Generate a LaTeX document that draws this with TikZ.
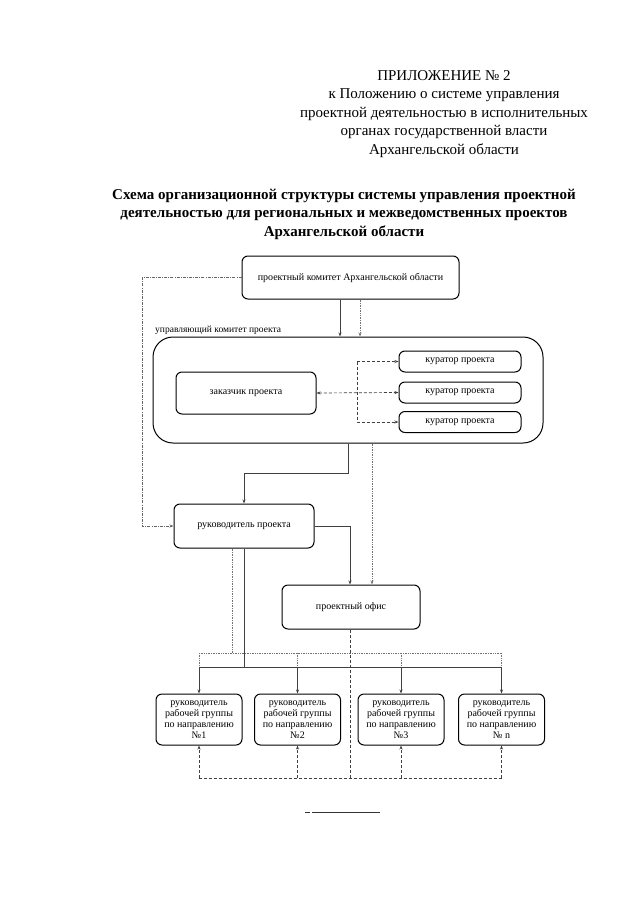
\documentclass[tikz,border=0pt]{standalone}
\usepackage{fontspec}
\setmainfont{Liberation Serif}
\usetikzlibrary{arrows.meta}
\tikzset{
  box/.style={draw, line width=1pt, rounded corners=6pt, inner sep=0pt, align=center, font=\fontsize{10}{10.8}\selectfont},
  conn/.style={draw=black!75, line width=0.7pt},
  arr/.style={-{Stealth[length=4pt,width=3pt]}},
  darr/.style={{Stealth[length=4pt,width=3pt]}-{Stealth[length=4pt,width=3pt]}},
  dotl/.style={conn, densely dotted, draw=black!55},
  dashl/.style={conn, dashed, dash pattern=on 3pt off 2pt},
  dashdotl/.style={conn, dash pattern=on 3pt off 1.2pt on 0.8pt off 1.2pt, draw=black!60},
  headtxt/.style={anchor=base, font=\fontsize{15}{18.5}\selectfont, inner sep=0pt},
  titletxt/.style={anchor=base, font=\fontsize{15}{18.5}\selectfont\bfseries, inner sep=0pt}
}
\begin{document}
\begin{tikzpicture}[x=1pt,y=-1pt]
\useasboundingbox[fill=white] (0,0) rectangle (640,905);

% header
\node[headtxt] (h1) at (444,80) {ПРИЛОЖЕНИЕ № 2};
\node[headtxt] (h2) at (444,98.5) {к Положению о системе управления};
\node[headtxt] (h3) at (444,117) {проектной деятельностью в исполнительных};
\node[headtxt] (h4) at (444,135.5) {органах государственной власти};
\node[headtxt] (h5) at (444,154) {Архангельской области};

\node[titletxt] (t1) at (344,199) {Схема организационной структуры системы управления проектной};
\node[titletxt] (t2) at (344,217.5) {деятельностью для региональных и межведомственных проектов};
\node[titletxt] (t3) at (344,236) {Архангельской области};

% boxes
\node[box, minimum width=217pt, minimum height=43pt] (top) at (350.5,277.5) {проектный комитет Архангельской области};
\node[box, rounded corners=20pt, minimum width=390pt, minimum height=106pt] (big) at (348,390) {};
\node[anchor=west, inner sep=0pt, font=\fontsize{9.5}{11}\selectfont] (biglbl) at (155,330) {управляющий комитет проекта};
\node[box, minimum width=140pt, minimum height=42pt] (zak) at (246,393) {заказчик проекта};
\node[box, minimum width=122pt, minimum height=21pt] (c1) at (460,361.5) {куратор проекта};
\node[box, minimum width=122pt, minimum height=21pt] (c2) at (460,392.5) {куратор проекта};
\node[box, minimum width=122pt, minimum height=21pt] (c3) at (460,422) {куратор проекта};
\node[box, minimum width=140pt, minimum height=44pt] (ruk) at (244,526) {руководитель проекта};
\node[box, minimum width=138pt, minimum height=44pt] (off) at (351,607) {проектный офис};
\node[box, minimum width=86pt, minimum height=51pt] (g1) at (199,719.5) {руководитель\\рабочей группы\\по направлению\\№1};
\node[box, minimum width=86pt, minimum height=51pt] (g2) at (297.5,719.5) {руководитель\\рабочей группы\\по направлению\\№2};
\node[box, minimum width=86pt, minimum height=51pt] (g3) at (401,719.5) {руководитель\\рабочей группы\\по направлению\\№3};
\node[box, minimum width=86pt, minimum height=51pt] (g4) at (501.5,719.5) {руководитель\\рабочей группы\\по направлению\\№ n};

% helper coordinates
\coordinate (xa) at (340,0);
\coordinate (xb) at (360,0);
\coordinate (xl) at (142,0);
\coordinate (xj) at (357,0);
\coordinate (xc) at (348,473);
\coordinate (xd) at (372,0);
\coordinate (xe) at (350,0);
\coordinate (yd) at (232,653);
\coordinate (ys) at (244,667);
\coordinate (yb) at (0,778);

% top connectors
\draw[conn, arr] (top.south -| xa) -- (big.north -| xa);
\draw[dotl, arr] (top.south -| xb) -- (big.north -| xb);
\draw[dashdotl, arr] (top.west) -- (top.west -| xl) -- (ruk.west -| xl) -- (ruk.west);

% inside committee
\draw[dashl, darr] (zak.east) -- (c2.west);
\draw[dashl, arr] (xj |- c1.west) -- (c1.west);
\draw[dashl, arr] (xj |- c1.west) -- (xj |- c3.west) -- (c3.west);

% committee to ruk / office
\draw[conn, arr] (big.south -| xc) -- (xc) -| (ruk.north);
\draw[dotl, arr] (big.south -| xd) -- (off.north -| xd);
\draw[conn, arr] (ruk.east) -| (off.north -| xe);

% ruk to groups
\draw[dotl] (ruk.south -| yd) -- (yd);
\draw[dotl] (g1.north |- yd) -- (g4.north |- yd);
\draw[conn] (ruk.south -| ys) -- (ys);
\draw[conn] (g1.north |- ys) -- (g4.north |- ys);
\foreach \g in {g1,g2,g3,g4}{
  \draw[dotl] (\g.north |- yd) -- (\g.north |- ys);
  \draw[conn, arr] (\g.north |- ys) -- (\g.north);
}

% office to groups (feedback)
\draw[dashl] (off.south -| xe) -- (yb -| xe);
\draw[dashl] (g1.south |- yb) -- (g4.south |- yb);
\foreach \g in {g1,g2,g3,g4}{
  \draw[dashl, arr] (\g.south |- yb) -- (\g.south);
}

% bottom rule
\coordinate (r1) at (305,812);
\coordinate (r2) at (310,812);
\coordinate (r3) at (312,812);
\coordinate (r4) at (380,812);
\draw[line width=0.8pt, black!80] (r1) -- (r2);
\draw[line width=0.8pt, black!80] (r3) -- (r4);
\end{tikzpicture}
\end{document}
